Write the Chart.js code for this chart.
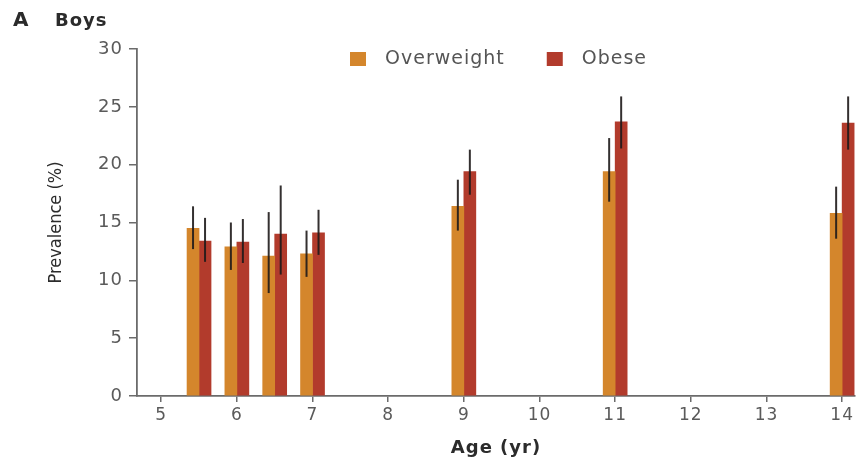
<!DOCTYPE html>
<html>
<head>
<meta charset="utf-8">
<script src="https://cdn.jsdelivr.net/npm/chart.js@4/dist/chart.umd.min.js"></script>
<style>
  html, body { margin: 0; padding: 0; background: #fff; }
  #wrap { width: 863px; height: 460px; }
</style>
</head>
<body>
<div id="wrap"><canvas id="boys"></canvas></div>
<script>
// ages (yr) and prevalence (%)
var ages = [5.5, 6, 6.5, 7, 9, 11, 14];
var overweight = [14.5, 12.9, 12.1, 12.3, 16.4, 19.4, 15.8];
var overweightLo = [12.7, 10.9, 8.9, 10.3, 14.3, 16.8, 13.6];
var overweightHi = [16.4, 15.0, 15.9, 14.3, 18.7, 22.3, 18.1];
var obese = [13.4, 13.3, 14.0, 14.1, 19.4, 23.7, 23.6];
var obeseLo = [11.6, 11.5, 10.5, 12.2, 17.4, 21.4, 21.3];
var obeseHi = [15.4, 15.3, 18.2, 16.1, 21.3, 25.9, 25.9];
var xTicks = [5, 6, 7, 8, 9, 10, 11, 12, 13, 14];
var yTicks = [0, 5, 10, 15, 20, 25, 30];

var ORANGE = "#d4862c";
var RED = "#b23b2c";
var FONT = "DejaVu Sans";

function pts(vals) {
  return ages.map(function (a, i) { return { x: a, y: vals[i] }; });
}

// etwas breitere Schrift wie im gestreckten Original
var spacing = {
  id: "spacing",
  beforeDraw: function (chart) { chart.ctx.letterSpacing = "1px"; }
};

// Fehlerbalken über die Balken zeichnen
var errorBars = {
  id: "errorBars",
  afterDatasetsDraw: function (chart) {
    var ctx = chart.ctx;
    var yScale = chart.scales.y;
    var ranges = [[overweightLo, overweightHi], [obeseLo, obeseHi]];
    ctx.save();
    ctx.strokeStyle = "rgba(30,25,25,0.9)";
    ctx.lineWidth = 2;
    chart.data.datasets.forEach(function (ds, d) {
      var meta = chart.getDatasetMeta(d);
      meta.data.forEach(function (bar, i) {
        ctx.beginPath();
        ctx.moveTo(bar.x, yScale.getPixelForValue(ranges[d][0][i]));
        ctx.lineTo(bar.x, yScale.getPixelForValue(ranges[d][1][i]));
        ctx.stroke();
      });
    });
    ctx.restore();
  }
};

// Legende, Paneltitel und y-Achsentitel
var panelText = {
  id: "panelText",
  afterDraw: function (chart) {
    var ctx = chart.ctx;
    var area = chart.chartArea;
    ctx.save();
    ctx.letterSpacing = "1px";
    ctx.fillStyle = "#2b2b2b";
    ctx.textBaseline = "middle";
    ctx.textAlign = "left";
    ctx.font = "bold 20px '" + FONT + "'";
    ctx.fillText("A", 13, 21);
    ctx.font = "bold 18px '" + FONT + "'";
    ctx.fillText("Boys", 55, 21);

    var x = 350, y = 59;
    ctx.font = "19px '" + FONT + "'";
    chart.data.datasets.forEach(function (ds) {
      ctx.fillStyle = ds.backgroundColor;
      ctx.fillRect(x, y - 7, 16, 14);
      ctx.fillStyle = "#555";
      ctx.fillText(ds.label, x + 35, y);
      x += 35 + ctx.measureText(ds.label).width + 42;
    });

    ctx.letterSpacing = "0px";
    ctx.translate(56, (area.top + area.bottom) / 2);
    ctx.rotate(-Math.PI / 2);
    ctx.textAlign = "center";
    ctx.fillStyle = "#2b2b2b";
    ctx.font = "18px 'DejaVu Sans Condensed', 'DejaVu Sans'";
    ctx.fillText("Prevalence (%)", 0, 0);
    ctx.restore();
  }
};

new Chart(document.getElementById("boys"), {
  type: "bar",
  data: {
    datasets: [
      { label: "Overweight", backgroundColor: ORANGE, data: pts(overweight) },
      { label: "Obese", backgroundColor: RED, data: pts(obese) }
    ]
  },
  options: {
    responsive: true,
    maintainAspectRatio: false,
    animation: false,
    layout: { padding: { left: 0, top: 49, right: 8, bottom: 0 } },
    datasets: { bar: { barThickness: 12 } },
    plugins: {
      legend: { display: false },
      tooltip: { enabled: false }
    },
    scales: {
      x: {
        type: "linear",
        min: 4.68,
        max: 14.17,
        offset: false,
        afterBuildTicks: function (scale) {
          scale.ticks = xTicks.map(function (v) { return { value: v }; });
        },
        afterFit: function (scale) { scale.height = 64; },
        grid: { offset: false, drawOnChartArea: false, tickLength: 6, color: "#6b6b6b", lineWidth: 1.5 },
        border: { color: "#6b6b6b", width: 1.8 },
        ticks: { color: "#5a5a5a", font: { family: FONT, size: 17 }, padding: 3, maxRotation: 0 },
        title: {
          display: true,
          text: "Age (yr)",
          color: "#2b2b2b",
          font: { family: FONT, size: 18, weight: "bold" },
          padding: { top: 0, bottom: 1 }
        }
      },
      y: {
        min: 0,
        max: 30,
        afterBuildTicks: function (scale) {
          scale.ticks = yTicks.map(function (v) { return { value: v }; });
        },
        afterFit: function (scale) { scale.width = 137; },
        grid: { drawOnChartArea: false, tickLength: 8, color: "#6b6b6b", lineWidth: 1.5 },
        border: { color: "#6b6b6b", width: 1.8 },
        ticks: { color: "#5a5a5a", font: { family: FONT, size: 18 }, padding: 6 }
      }
    }
  },
  plugins: [spacing, errorBars, panelText]
});
</script>
</body>
</html>
